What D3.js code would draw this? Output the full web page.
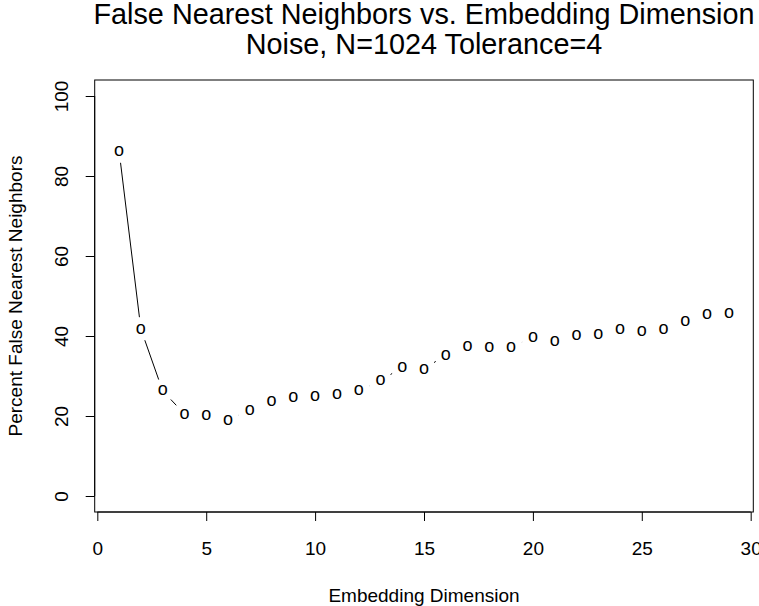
<!DOCTYPE html>
<html>
<head>
<meta charset="utf-8">
<script src="https://cdn.jsdelivr.net/npm/d3@7"></script>
<style>
  html, body { margin: 0; padding: 0; background: #fff; }
  svg { display: block; }
  text { font-family: "Liberation Sans", Arial, Helvetica, sans-serif; fill: #000; }
</style>
</head>
<body>
<svg id="chart" width="759" height="606"></svg>
<script>
// Embedding dimension (1..29) and percentage of false nearest neighbours
const dimensions = [1, 2, 3, 4, 5, 6, 7, 8, 9, 10, 11, 12, 13, 14, 15,
                    16, 17, 18, 19, 20, 21, 22, 23, 24, 25, 26, 27, 28, 29];
const percentFNN = [86.25, 41.75, 26.3, 20.5, 20.25, 19.0, 21.5, 23.6, 24.7, 24.8,
                    25.5, 26.3, 28.8, 32.2, 31.75, 35.25, 37.5, 37.2, 37.2, 39.7,
                    38.6, 40.25, 40.5, 41.7, 41.25, 41.7, 43.75, 45.5, 45.7];
const xTicks = [0, 5, 10, 15, 20, 25, 30];
const yTicks = [0, 20, 40, 60, 80, 100];

const titleLines = ["False Nearest Neighbors vs. Embedding Dimension",
                    "Noise, N=1024 Tolerance=4"];
const xLabel = "Embedding Dimension";
const yLabel = "Percent False Nearest Neighbors";

const svg = d3.select("#chart");
const box = { left: 94.7, right: 753.3, top: 80, bottom: 512 };

// Plot region spans the data range plus 4% on each side
const x = d3.scaleLinear().domain([-0.12, 30.12]).range([box.left, box.right]);
const y = d3.scaleLinear().domain([-4, 104]).range([box.bottom, box.top]);

const baseFont = 19;
const tickLen = 9;

// Frame around the plot region
svg.append("rect")
  .attr("x", box.left).attr("y", box.top)
  .attr("width", box.right - box.left).attr("height", box.bottom - box.top)
  .attr("fill", "none").attr("stroke", "#000").attr("stroke-width", 1);

// Bottom axis
const xAxis = d3.axisBottom(x).tickValues(xTicks).tickSize(tickLen).tickPadding(21)
  .tickFormat(d3.format("d"));
const gx = svg.append("g").attr("transform", `translate(0,${box.bottom})`).call(xAxis);
gx.select(".domain").attr("d", `M${x(xTicks[0])},0H${x(xTicks[xTicks.length - 1])}`)
  .attr("stroke", "#000");
gx.selectAll(".tick line").attr("stroke", "#000");
gx.selectAll(".tick text").attr("font-size", baseFont)
  .attr("font-family", "Liberation Sans, Arial, sans-serif").attr("fill", "#000");

// Left axis with labels running parallel to the axis
const yAxis = d3.axisLeft(y).tickValues(yTicks).tickSize(tickLen).tickFormat(d3.format("d"));
const gy = svg.append("g").attr("transform", `translate(${box.left},0)`).call(yAxis);
gy.select(".domain").attr("d", `M0,${y(yTicks[0])}V${y(yTicks[yTicks.length - 1])}`)
  .attr("stroke", "#000");
gy.selectAll(".tick line").attr("stroke", "#000");
gy.selectAll(".tick text")
  .attr("font-size", baseFont)
  .attr("font-family", "Liberation Sans, Arial, sans-serif").attr("fill", "#000")
  .attr("x", null)
  .attr("text-anchor", "middle")
  .attr("transform", "translate(-33,0) rotate(-90)")
  .attr("y", 0).attr("dy", "0.35em");

// Connecting segments, broken around each point marker
const gap = 11.9;
const pts = dimensions.map((d, i) => [x(d), y(percentFNN[i])]);
const segs = [];
for (let i = 0; i < pts.length - 1; i++) {
  const [x0, y0] = pts[i], [x1, y1] = pts[i + 1];
  const dx = x1 - x0, dy = y1 - y0, len = Math.hypot(dx, dy);
  if (len > 2 * gap) {
    const ux = dx / len, uy = dy / len;
    segs.push([x0 + ux * gap, y0 + uy * gap, x1 - ux * gap, y1 - uy * gap]);
  }
}
svg.append("g").selectAll("line").data(segs).join("line")
  .attr("x1", d => d[0]).attr("y1", d => d[1])
  .attr("x2", d => d[2]).attr("y2", d => d[3])
  .attr("stroke", "#000").attr("stroke-width", 1);

// Point markers drawn as the character "o"
const markFont = 18;
svg.append("g").selectAll("text").data(dimensions).join("text")
  .attr("x", d => x(d))
  .attr("y", (d, i) => y(percentFNN[i]) + markFont * 0.26)
  .attr("text-anchor", "middle")
  .attr("font-size", markFont)
  .text("o");

// Title
const titleFont = 28.8;
svg.append("g").selectAll("text").data(titleLines).join("text")
  .attr("x", (box.left + box.right) / 2)
  .attr("y", (d, i) => 24 + i * 30)
  .attr("text-anchor", "middle")
  .attr("font-size", titleFont)
  .text(d => d);

// Axis titles
svg.append("text")
  .attr("x", (box.left + box.right) / 2).attr("y", 602)
  .attr("text-anchor", "middle").attr("font-size", baseFont)
  .text(xLabel);

svg.append("text")
  .attr("transform", `translate(22,${(box.top + box.bottom) / 2}) rotate(-90)`)
  .attr("text-anchor", "middle").attr("font-size", baseFont)
  .text(yLabel);
</script>
</body>
</html>
